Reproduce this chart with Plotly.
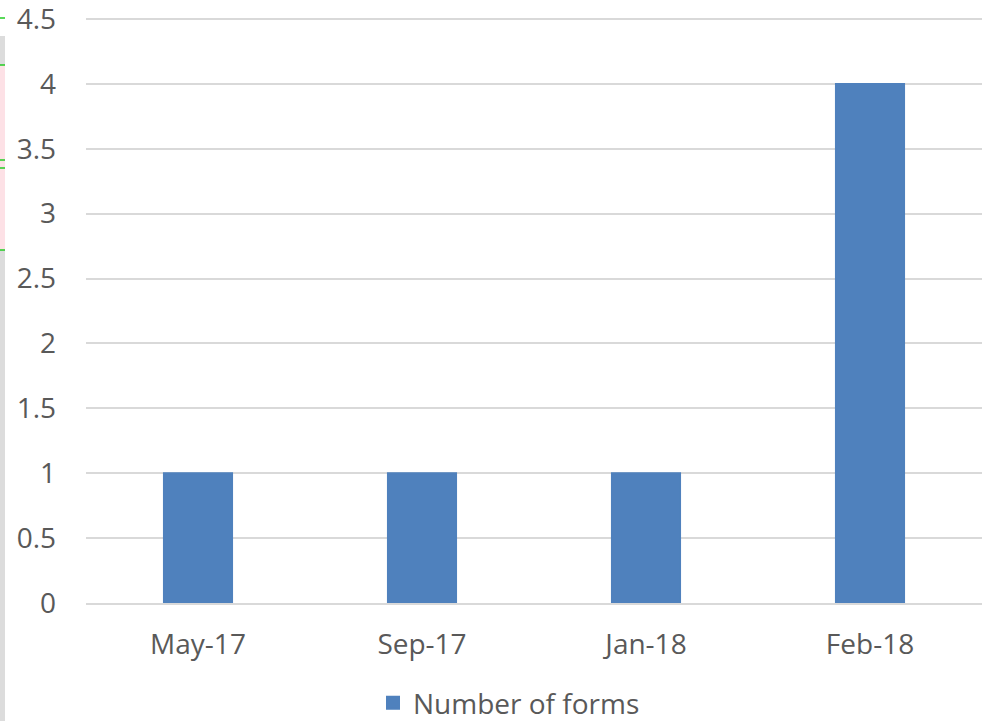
import plotly.graph_objects as go

categories = ["May-17", "Sep-17", "Jan-18", "Feb-18"]
values = [1, 1, 1, 4]
series_name = "Number of forms"
y_ticks = [0, 0.5, 1, 1.5, 2, 2.5, 3, 3.5, 4, 4.5]
y_max = 4.5

W, H = 987, 721
L, R, T, B = 86, 5, 16, 118
PW, PH = W - L - R, H - T - B
TOP_TICK_PX = 19                      # screen y of the y_max gridline
UNIT_PX = (H - B - TOP_TICK_PX) / y_max
RANGE_TOP = PH / UNIT_PX


def px_x(p):
    return (p - L) / PW


def px_y(p):
    return (H - B - p) / PH


font = dict(family="Open Sans, Lato, sans-serif", size=28, color="#595959")
BAR = "#4f81bd"

fig = go.Figure()
fig.add_trace(go.Bar(x=categories, y=values, name=series_name,
                     marker=dict(color=BAR, line=dict(width=2, color=BAR)),
                     showlegend=True))

# decorative strip at the far left edge (as in the source screenshot)
shapes = []
strip = [(36, 65, "#dcdcdc"), (65, 250, "#fde1e6"), (250, 721, "#dcdcdc")]
for y0, y1, col in strip:
    shapes.append(dict(type="rect", xref="paper", yref="paper",
                       x0=px_x(0), x1=px_x(5), y0=px_y(y1), y1=px_y(y0),
                       fillcolor=col, line=dict(width=0), layer="below"))
for yy in [18, 65, 160, 168, 250]:
    shapes.append(dict(type="line", xref="paper", yref="paper",
                       x0=px_x(0), x1=px_x(5), y0=px_y(yy), y1=px_y(yy),
                       line=dict(color="#22cc22", width=1.5)))

fig.update_layout(
    width=W, height=H,
    margin=dict(l=L, r=R, t=T, b=B, autoexpand=False),
    paper_bgcolor="white", plot_bgcolor="white",
    font=font,
    bargap=0.696,
    showlegend=True,
    shapes=shapes,
    legend=dict(orientation="h", xref="container", yref="container",
                x=373 / W, xanchor="left", y=(H - 703) / H, yanchor="middle",
                font=font, itemwidth=30, bgcolor="rgba(0,0,0,0)"),
    xaxis=dict(showgrid=False, showline=True, linecolor="#d9d9d9", linewidth=1.5,
               ticks="", ticklabelstandoff=16, tickfont=font),
    yaxis=dict(range=[0, RANGE_TOP], tickvals=y_ticks,
               ticktext=[f"{v:g}" for v in y_ticks], ticklabeloverflow="allow",
               showgrid=True, gridcolor="#d9d9d9", gridwidth=1.5, zeroline=False,
               showline=False, ticks="", ticklabelstandoff=29, tickfont=font),
)
fig.write_html("out.html", config={"displayModeBar": False},
               post_script="document.body.style.margin='0';")
